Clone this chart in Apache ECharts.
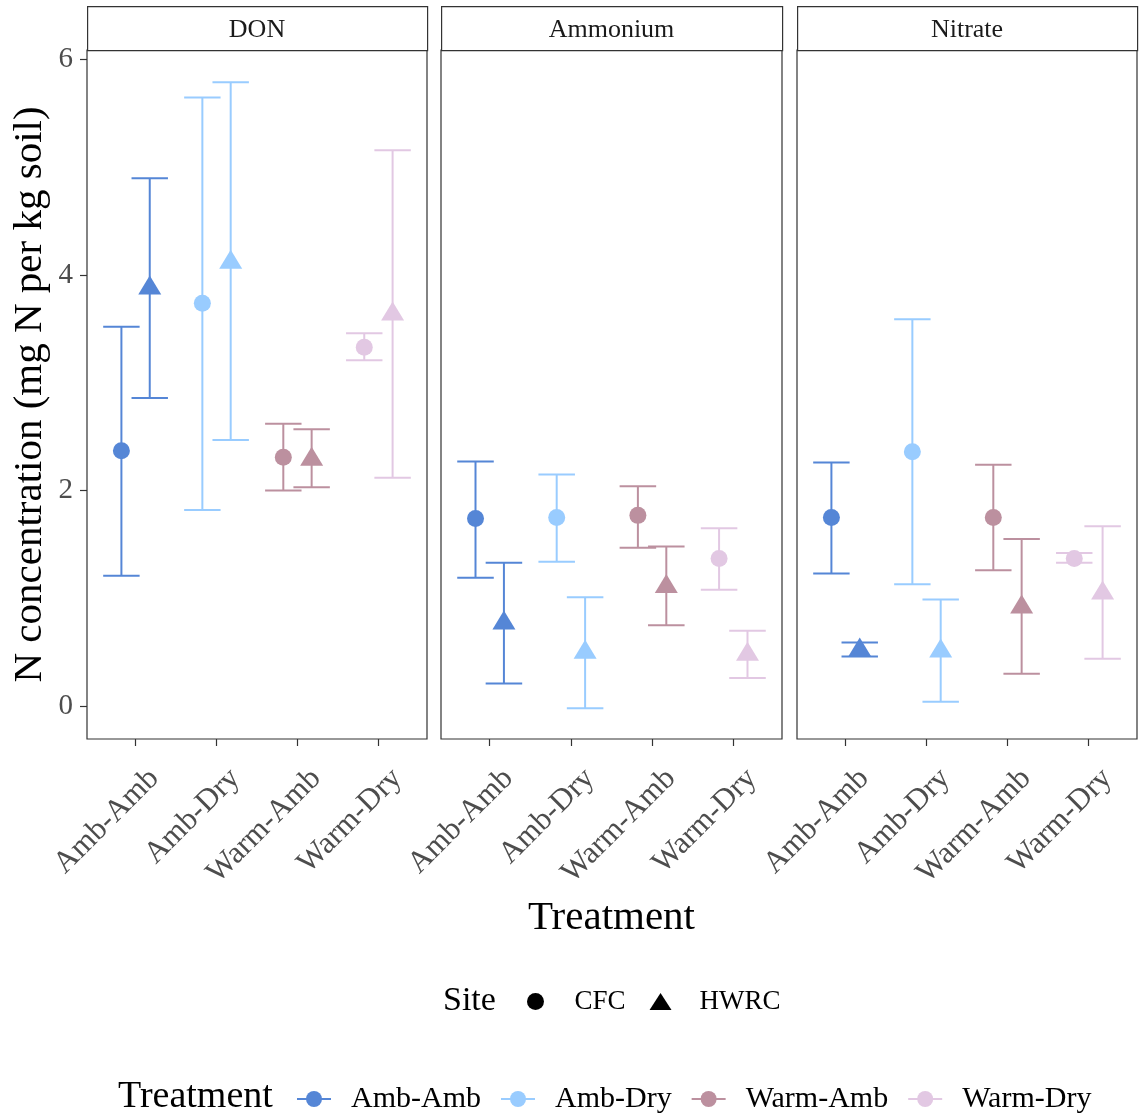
<!DOCTYPE html>
<html><head><meta charset="utf-8">
<script src="https://cdn.jsdelivr.net/npm/echarts@6/dist/echarts.min.js"></script>
<style>html,body{margin:0;padding:0;background:#fff}#c{width:1141px;height:1114px}</style>
</head><body><div id="c"></div>
<script>
const facets = ['DON', 'Ammonium', 'Nitrate'];
const treatments = ['Amb-Amb', 'Amb-Dry', 'Warm-Amb', 'Warm-Dry'];
const sites = ['CFC', 'HWRC'];
const yTicks = [0, 2, 4, 6];
const xTicks = [1, 2, 3, 4];

// DON
const donCFCMean  = [2.37, 3.74, 2.31, 3.33];
const donCFCLow   = [1.21, 1.82, 2.00, 3.21];
const donCFCHigh  = [3.52, 5.65, 2.62, 3.46];
const donHWRCMean = [3.88, 4.12, 2.29, 3.64];
const donHWRCLow  = [2.86, 2.47, 2.03, 2.12];
const donHWRCHigh = [4.90, 5.79, 2.57, 5.16];
// Ammonium
const ammCFCMean  = [1.74, 1.75, 1.77, 1.37];
const ammCFCLow   = [1.19, 1.34, 1.47, 1.08];
const ammCFCHigh  = [2.27, 2.15, 2.04, 1.65];
const ammHWRCMean = [0.77, 0.50, 1.11, 0.48];
const ammHWRCLow  = [0.21, -0.02, 0.75, 0.26];
const ammHWRCHigh = [1.33, 1.01, 1.48, 0.70];
// Nitrate
const nitCFCMean  = [1.75, 2.36, 1.75, 1.37];
const nitCFCLow   = [1.23, 1.13, 1.26, 1.33];
const nitCFCHigh  = [2.26, 3.59, 2.24, 1.42];
const nitHWRCMean = [0.52, 0.51, 0.92, 1.05];
const nitHWRCLow  = [0.46, 0.04, 0.30, 0.44];
const nitHWRCHigh = [0.59, 0.99, 1.55, 1.67];

const colors = ['#5586D6', '#99CCFF', '#BC909F', '#E2C8E3'];
const FONT = 'Liberation Serif';

const facetData = [
  { CFC: [donCFCMean, donCFCLow, donCFCHigh], HWRC: [donHWRCMean, donHWRCLow, donHWRCHigh] },
  { CFC: [ammCFCMean, ammCFCLow, ammCFCHigh], HWRC: [ammHWRCMean, ammHWRCLow, ammHWRCHigh] },
  { CFC: [nitCFCMean, nitCFCLow, nitCFCHigh], HWRC: [nitHWRCMean, nitHWRCLow, nitHWRCHigh] }
];

const dodge = 0.175;
const capHalf = 0.225;
const panelLeft = [87, 441, 797];
const panelWidth = [340, 341, 340];
const panelTop = 50, panelHeight = 689;

const grids = [], xAxes = [], yAxes = [], series = [], graphics = [];

facets.forEach((f, i) => {
  grids.push({ left: panelLeft[i], top: panelTop, width: panelWidth[i], height: panelHeight,
    show: true, borderColor: '#333', borderWidth: 1.2, backgroundColor: '#fff', containLabel: false });
  xAxes.push({
    type: 'value', gridIndex: i, min: 0.4, max: 4.6, position: 'bottom',
    axisLine: { show: false, onZero: false }, splitLine: { show: false },
    axisTick: { show: true, customValues: xTicks, length: 7, lineStyle: { color: '#333', width: 1.2 } },
    axisLabel: { show: true, customValues: xTicks, formatter: v => treatments[Math.round(v) - 1],
      rotate: 45, align: 'right', verticalAlign: 'top', margin: 16, padding: [11, 0, 0, 0],
      fontSize: 31, fontFamily: FONT, color: '#4D4D4D' },
    name: i === 1 ? 'Treatment' : '', nameLocation: 'middle', nameGap: 159,
    nameTextStyle: { fontSize: 41, fontFamily: FONT, color: '#000', padding: 0 }
  });
  yAxes.push({
    type: 'value', gridIndex: i, min: -0.306, max: 6.09, position: 'left',
    axisLine: { show: false, onZero: false }, splitLine: { show: false },
    axisTick: { show: i === 0, customValues: yTicks, length: 7, lineStyle: { color: '#333', width: 1.2 } },
    axisLabel: { show: i === 0, customValues: yTicks, margin: 14,
      fontSize: 29, fontFamily: FONT, color: '#4D4D4D' },
    name: i === 0 ? 'N concentration (mg N per kg soil)' : '', nameLocation: 'middle', nameGap: 36,
    nameTextStyle: { fontSize: 41, fontFamily: FONT, color: '#000' }
  });

  // error bars
  const ebData = [];
  sites.forEach((s, si) => {
    const [m, lo, hi] = facetData[i][s];
    treatments.forEach((t, ti) => {
      ebData.push([ti + 1 + (si === 0 ? -dodge : dodge), lo[ti], hi[ti], ti]);
    });
  });
  series.push({
    type: 'custom', xAxisIndex: i, yAxisIndex: i, z: 2, silent: true,
    data: ebData,
    renderItem: function (params, api) {
      const x = api.value(0), lo = api.value(1), hi = api.value(2), ci = api.value(3);
      const pLo = api.coord([x, lo]), pHi = api.coord([x, hi]);
      const pL = api.coord([x - capHalf, lo]), pR = api.coord([x + capHalf, lo]);
      const style = { stroke: colors[ci], lineWidth: 2 };
      return { type: 'group', children: [
        { type: 'line', shape: { x1: pLo[0], y1: pLo[1], x2: pHi[0], y2: pHi[1] }, style: style },
        { type: 'line', shape: { x1: pL[0], y1: pHi[1], x2: pR[0], y2: pHi[1] }, style: style },
        { type: 'line', shape: { x1: pL[0], y1: pLo[1], x2: pR[0], y2: pLo[1] }, style: style }
      ] };
    }
  });

  // points
  sites.forEach((s, si) => {
    const m = facetData[i][s][0];
    series.push({
      type: 'scatter', name: s, xAxisIndex: i, yAxisIndex: i, z: 3,
      symbol: si === 0 ? 'circle' : 'triangle',
      symbolSize: si === 0 ? 17 : [23, 19],
      symbolOffset: si === 0 ? [0, 0] : [0, -3],
      itemStyle: { opacity: 1 },
      data: treatments.map((t, ti) => ({ value: [ti + 1 + (si === 0 ? -dodge : dodge), m[ti]], itemStyle: { color: colors[ti] } }))
    });
  });

  // strip
  graphics.push({ type: 'rect', left: panelLeft[i], top: 6, silent: true,
    shape: { width: panelWidth[i], height: 44 }, style: { fill: '#fff', stroke: '#333', lineWidth: 1.2 } });
  graphics.push({ type: 'text', silent: true,
    x: panelLeft[i] + panelWidth[i] / 2, y: 30,
    style: { text: f, fontSize: 26, fontFamily: FONT, fill: '#1A1A1A', align: 'center', verticalAlign: 'middle' } });
});

// legend dummy series for treatment colours
treatments.forEach((t, ti) => {
  series.push({ type: 'line', name: t, xAxisIndex: 0, yAxisIndex: 0, data: [],
    color: colors[ti], symbol: 'circle', lineStyle: { width: 2, color: colors[ti] }, itemStyle: { color: colors[ti] } });
});

graphics.push({ type: 'text', x: 443, y: 1001, silent: true,
  style: { text: 'Site', fontSize: 34, fontFamily: FONT, fill: '#000', align: 'left', verticalAlign: 'middle' } });
graphics.push({ type: 'text', x: 118, y: 1097, silent: true,
  style: { text: 'Treatment', fontSize: 38, fontFamily: FONT, fill: '#000', align: 'left', verticalAlign: 'middle' } });

const option = {
  animation: false,
  backgroundColor: '#fff',
  grid: grids, xAxis: xAxes, yAxis: yAxes, series: series,
  graphic: graphics,
  legend: [
    { left: 527, top: 988, padding: 0, orient: 'horizontal', selectedMode: false,
      itemWidth: 22, itemHeight: 17, itemGap: 24,
      textStyle: { fontSize: 27, fontFamily: FONT, color: '#000', padding: [0, 0, 0, 23] },
      data: [ { name: 'CFC', icon: 'circle', itemStyle: { color: '#000' } },
              { name: 'HWRC', icon: 'triangle', itemStyle: { color: '#000' } } ] },
    { left: 296, top: 1084, padding: 0, orient: 'horizontal', selectedMode: false,
      itemWidth: 34, itemHeight: 20, itemGap: 19,
      textStyle: { fontSize: 30, fontFamily: FONT, color: '#000', padding: [0, 0, 0, 15] },
      data: treatments }
  ]
};
const chart = echarts.init(document.getElementById('c'), null, { renderer: 'canvas' });
chart.setOption(option);
</script></body></html>
